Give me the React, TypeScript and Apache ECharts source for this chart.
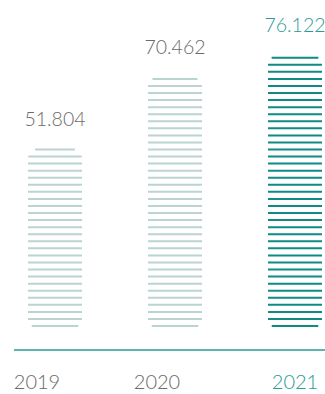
import React, { useEffect, useRef } from 'react';
import * as echarts from 'echarts';

const categories = ['2019', '2020', '2021'];
const values = [51.804, 70.462, 76.122];
const highlightIndex = 2;

const LIGHT = '#bcd4d1';
const DARK = '#0f8a84';
const TEXT = '#6a6a6a';
const TEAL = '#2a9b95';
const FONT = 'Lato, "Open Sans", sans-serif';

function corner(d: number, R: number) {
  if (d >= R) return 0;
  const dd = Math.max(d, 0);
  return R - Math.sqrt(R * R - (R - dd) * (R - dd));
}

const renderItem = (params: any, api: any) => {
  const i = api.value(0);
  const v = api.value(1);
  const [cx, topY] = api.coord([i, v]);
  const zeroY = api.coord([i, 0])[1];
  const half = 27;
  const period = 7.06;
  const thick = 2;
  const R = 10;
  const color = i === highlightIndex ? DARK : LIGHT;
  const roundTop = topY - 1.5;
  const lastCenter = zeroY - 24;
  const roundBottom = lastCenter + 2.2;
  const children: any[] = [];
  for (let c = lastCenter; c >= topY - 1.5; c -= period) {
    const inset = Math.max(corner(c - roundTop, R), corner(roundBottom - c, R));
    children.push({
      type: 'rect',
      shape: { x: cx - half + inset, y: c - thick / 2, width: 2 * (half - inset), height: thick },
      style: { fill: color },
    });
  }
  children.push({
    type: 'text',
    style: {
      text: v.toFixed(3),
      x: cx,
      y: topY - 32,
      align: 'center',
      verticalAlign: 'middle',
      fill: i === highlightIndex ? TEAL : TEXT,
      fontSize: 19.5,
      fontWeight: 300,
      fontFamily: FONT,
    },
  });
  return { type: 'group', children };
};

export default function App() {
  const ref = useRef<HTMLDivElement>(null);
  useEffect(() => {
    if (!ref.current) return;
    const chart = echarts.init(ref.current, undefined, { renderer: 'svg' });
    chart.setOption({
      animation: false,
      grid: { left: -5, width: 360, top: 42, height: 308, outerBoundsMode: 'none', containLabel: false },
      xAxis: {
        type: 'category',
        data: categories,
        axisLine: { show: false },
        axisTick: { show: false },
        splitLine: { show: false },
        axisLabel: {
          margin: 21,
          formatter: (val: string, idx: number) => (idx === highlightIndex ? `{h|${val}}` : `{n|${val}}`),
          rich: {
            n: { color: TEXT, fontSize: 20, fontWeight: 300, fontFamily: FONT, padding: [0, 36, 0, 0] },
            h: { color: TEAL, fontSize: 20, fontWeight: 300, fontFamily: FONT },
          },
        },
      },
      yAxis: { type: 'value', min: 0, max: 80, show: false },
      series: [
        {
          type: 'custom',
          data: values.map((v, i) => [i, v]),
          renderItem,
          clip: false,
        },
      ],
      graphic: [
        {
          type: 'line',
          shape: { x1: 14, y1: 350, x2: 325, y2: 350 },
          style: { stroke: TEAL, lineWidth: 1.5 },
        },
      ],
    });
    return () => chart.dispose();
  }, []);
  return <div ref={ref} style={{ position: 'absolute', left: 0, top: 0, width: 325, height: 394 }} />;
}
